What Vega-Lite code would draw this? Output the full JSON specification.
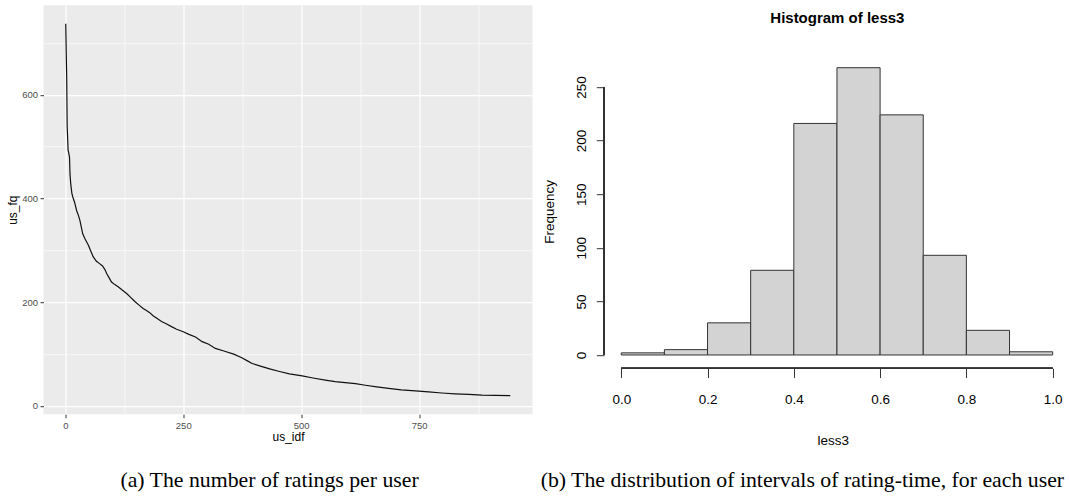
{
  "$schema": "https://vega.github.io/schema/vega-lite/v6.json",
  "padding": {"left": 6.5, "top": 5.2, "right": 0, "bottom": 0},
  "spacing": 7.5,
  "config": {
    "font": "Liberation Sans",
    "view": {"stroke": null},
    "axis": {"labelFlush": false, "labelOverlap": false}
  },
  "hconcat": [
    {
      "width": 489,
      "height": 409,
      "view": {"fill": "#EBEBEB", "stroke": null},
      "title": {
        "text": "(a) The number of ratings per user",
        "orient": "bottom",
        "frame": "bounds",
        "anchor": "middle",
        "font": "Liberation Serif",
        "fontSize": 21.8,
        "fontWeight": "normal",
        "color": "black",
        "offset": 28
      },
      "data": {
        "values": [
          {"us_idf": 1, "us_fq": 737}, {"us_idf": 2, "us_fq": 685}, {"us_idf": 3, "us_fq": 636},
          {"us_idf": 4, "us_fq": 540}, {"us_idf": 5, "us_fq": 518}, {"us_idf": 6, "us_fq": 493},
          {"us_idf": 7, "us_fq": 490}, {"us_idf": 8, "us_fq": 484}, {"us_idf": 9, "us_fq": 480},
          {"us_idf": 10, "us_fq": 448}, {"us_idf": 11, "us_fq": 435}, {"us_idf": 12, "us_fq": 425},
          {"us_idf": 14, "us_fq": 410}, {"us_idf": 16, "us_fq": 403}, {"us_idf": 20, "us_fq": 392},
          {"us_idf": 24, "us_fq": 377}, {"us_idf": 28, "us_fq": 367}, {"us_idf": 31, "us_fq": 358},
          {"us_idf": 34, "us_fq": 345}, {"us_idf": 37, "us_fq": 332}, {"us_idf": 42, "us_fq": 322},
          {"us_idf": 49, "us_fq": 310}, {"us_idf": 54, "us_fq": 299}, {"us_idf": 59, "us_fq": 288},
          {"us_idf": 66, "us_fq": 279}, {"us_idf": 72, "us_fq": 275}, {"us_idf": 79, "us_fq": 270},
          {"us_idf": 84, "us_fq": 263}, {"us_idf": 88, "us_fq": 255}, {"us_idf": 93, "us_fq": 247},
          {"us_idf": 98, "us_fq": 239}, {"us_idf": 105, "us_fq": 234}, {"us_idf": 112, "us_fq": 230},
          {"us_idf": 120, "us_fq": 224}, {"us_idf": 130, "us_fq": 217}, {"us_idf": 138, "us_fq": 210},
          {"us_idf": 148, "us_fq": 201}, {"us_idf": 157, "us_fq": 194}, {"us_idf": 165, "us_fq": 188},
          {"us_idf": 172, "us_fq": 184}, {"us_idf": 179, "us_fq": 180}, {"us_idf": 186, "us_fq": 174},
          {"us_idf": 194, "us_fq": 169}, {"us_idf": 204, "us_fq": 163}, {"us_idf": 215, "us_fq": 158},
          {"us_idf": 225, "us_fq": 153}, {"us_idf": 236, "us_fq": 148}, {"us_idf": 250, "us_fq": 143},
          {"us_idf": 262, "us_fq": 138}, {"us_idf": 276, "us_fq": 133}, {"us_idf": 290, "us_fq": 124},
          {"us_idf": 304, "us_fq": 119}, {"us_idf": 318, "us_fq": 111}, {"us_idf": 336, "us_fq": 106},
          {"us_idf": 357, "us_fq": 100}, {"us_idf": 374, "us_fq": 93}, {"us_idf": 386, "us_fq": 87},
          {"us_idf": 396, "us_fq": 82}, {"us_idf": 417, "us_fq": 76}, {"us_idf": 435, "us_fq": 71},
          {"us_idf": 452, "us_fq": 67}, {"us_idf": 475, "us_fq": 62}, {"us_idf": 502, "us_fq": 58},
          {"us_idf": 525, "us_fq": 54}, {"us_idf": 551, "us_fq": 50}, {"us_idf": 572, "us_fq": 47},
          {"us_idf": 593, "us_fq": 45}, {"us_idf": 615, "us_fq": 43}, {"us_idf": 636, "us_fq": 40},
          {"us_idf": 660, "us_fq": 37}, {"us_idf": 685, "us_fq": 34}, {"us_idf": 712, "us_fq": 31},
          {"us_idf": 742, "us_fq": 29}, {"us_idf": 770, "us_fq": 27}, {"us_idf": 798, "us_fq": 25},
          {"us_idf": 826, "us_fq": 23.5}, {"us_idf": 855, "us_fq": 22.5}, {"us_idf": 883, "us_fq": 21},
          {"us_idf": 911, "us_fq": 20.5}, {"us_idf": 943, "us_fq": 20}
        ]
      },
      "layer": [
        {
          "mark": {"type": "line", "strokeOpacity": 0},
          "encoding": {
            "x": {
              "field": "us_idf", "type": "quantitative",
              "scale": {"domain": [-46.1, 990.1], "nice": false, "zero": false},
              "axis": {"orient": "top", "values": [125, 375, 625, 875], "grid": true, "gridColor": "#FFFFFF", "gridWidth": 0.6, "labels": false, "ticks": false, "domain": false, "title": null, "minExtent": 0, "maxExtent": 0}
            },
            "y": {
              "field": "us_fq", "type": "quantitative",
              "scale": {"domain": [-15.85, 772.85], "nice": false, "zero": false},
              "axis": {"orient": "right", "values": [100, 300, 500, 700], "grid": true, "gridColor": "#FFFFFF", "gridWidth": 0.6, "labels": false, "ticks": false, "domain": false, "title": null, "minExtent": 0, "maxExtent": 0}
            }
          }
        },
        {
          "mark": {"type": "line", "color": "#111111", "strokeWidth": 1.2},
          "encoding": {
            "x": {
              "field": "us_idf", "type": "quantitative",
              "axis": {
                "orient": "bottom", "values": [0, 250, 500, 750], "grid": true, "gridColor": "#FFFFFF", "gridWidth": 1.2,
                "domain": false, "ticks": true, "tickColor": "#333333", "tickSize": 3.5, "tickWidth": 1,
                "labelColor": "#4D4D4D", "labelFontSize": 9.5, "labelPadding": 2.5,
                "title": "us_idf", "titleFontSize": 12, "titleFontWeight": "normal", "titleColor": "#000000", "titlePadding": 1.5
              }
            },
            "y": {
              "field": "us_fq", "type": "quantitative",
              "axis": {
                "orient": "left", "values": [0, 200, 400, 600], "grid": true, "gridColor": "#FFFFFF", "gridWidth": 1.2,
                "domain": false, "ticks": true, "tickColor": "#333333", "tickSize": 3.5, "tickWidth": 1,
                "labelColor": "#4D4D4D", "labelFontSize": 9.5, "labelPadding": 2.5,
                "title": "us_fq", "titleFontSize": 12, "titleFontWeight": "normal", "titleColor": "#000000", "titlePadding": 2
              }
            }
          }
        }
      ],
      "resolve": {"axis": {"x": "independent", "y": "independent"}}
    },
    {
      "title": {
        "text": "(b) The distribution of intervals of rating-time, for each user",
        "orient": "bottom",
        "frame": "bounds",
        "anchor": "middle",
        "font": "Liberation Serif",
        "fontSize": 21.8,
        "fontWeight": "normal",
        "color": "black",
        "offset": 22.5
      },
      "vconcat": [
        {
          "width": 457.3,
          "height": 363.1,
          "title": {
            "text": "Histogram of less3",
            "font": "Liberation Sans",
            "fontSize": 15,
            "fontWeight": "bold",
            "color": "#000000",
            "offset": -21,
            "dx": 4.7,
            "anchor": "middle",
            "frame": "group"
          },
          "data": {
            "values": [
              {"start": 0.0, "end": 0.1, "count": 2},
              {"start": 0.1, "end": 0.2, "count": 5},
              {"start": 0.2, "end": 0.3, "count": 30},
              {"start": 0.3, "end": 0.4, "count": 79},
              {"start": 0.4, "end": 0.5, "count": 216},
              {"start": 0.5, "end": 0.6, "count": 268},
              {"start": 0.6, "end": 0.7, "count": 224},
              {"start": 0.7, "end": 0.8, "count": 93},
              {"start": 0.8, "end": 0.9, "count": 23},
              {"start": 0.9, "end": 1.0, "count": 3}
            ]
          },
          "layer": [
            {
              "mark": {"type": "bar", "fill": "#D3D3D3", "stroke": "#333333", "strokeWidth": 1},
              "encoding": {
                "x": {
                  "field": "start", "type": "quantitative",
                  "scale": {"domain": [-0.04, 1.02], "nice": false, "zero": false},
                  "axis": {
                    "values": [0, 0.2, 0.4, 0.6, 0.8, 1.0], "format": ".1f", "grid": false,
                    "domain": false, "tickColor": "#333333", "tickSize": 9.3,
                    "labelFontSize": 13.5, "labelColor": "#000000", "labelPadding": 14.6,
                    "title": "less3", "titleFontSize": 13.5, "titleFontWeight": "normal", "titleColor": "#000000", "titlePadding": 28
                  }
                },
                "x2": {"field": "end"},
                "y": {
                  "field": "count", "type": "quantitative",
                  "scale": {"domain": [-12.4, 326.3], "nice": false, "zero": false},
                  "axis": {
                    "values": [0, 50, 100, 150, 200, 250], "grid": false,
                    "domain": false, "tickColor": "#333333", "tickSize": 7.7,
                    "labelFontSize": 13.5, "labelColor": "#000000", "labelPadding": 8, "labelAngle": -90, "labelAlign": "center", "labelBaseline": "bottom",
                    "title": "Frequency", "titleFontSize": 13.5, "titleFontWeight": "normal", "titleColor": "#000000", "titlePadding": 17.6, "titleY": 206.2
                  }
                },
                "y2": {"datum": 0}
              }
            },
            {
              "mark": {"type": "rule", "color": "#333333", "strokeWidth": 1},
              "encoding": {
                "x": {"datum": 0, "type": "quantitative"},
                "x2": {"datum": 1},
                "y": {"datum": -12.4, "type": "quantitative"}
              }
            },
            {
              "mark": {"type": "rule", "color": "#333333", "strokeWidth": 1},
              "encoding": {
                "x": {"datum": -0.04, "type": "quantitative"},
                "y": {"datum": 0, "type": "quantitative"},
                "y2": {"datum": 250}
              }
            }
          ]
        }
      ]
    }
  ]
}
